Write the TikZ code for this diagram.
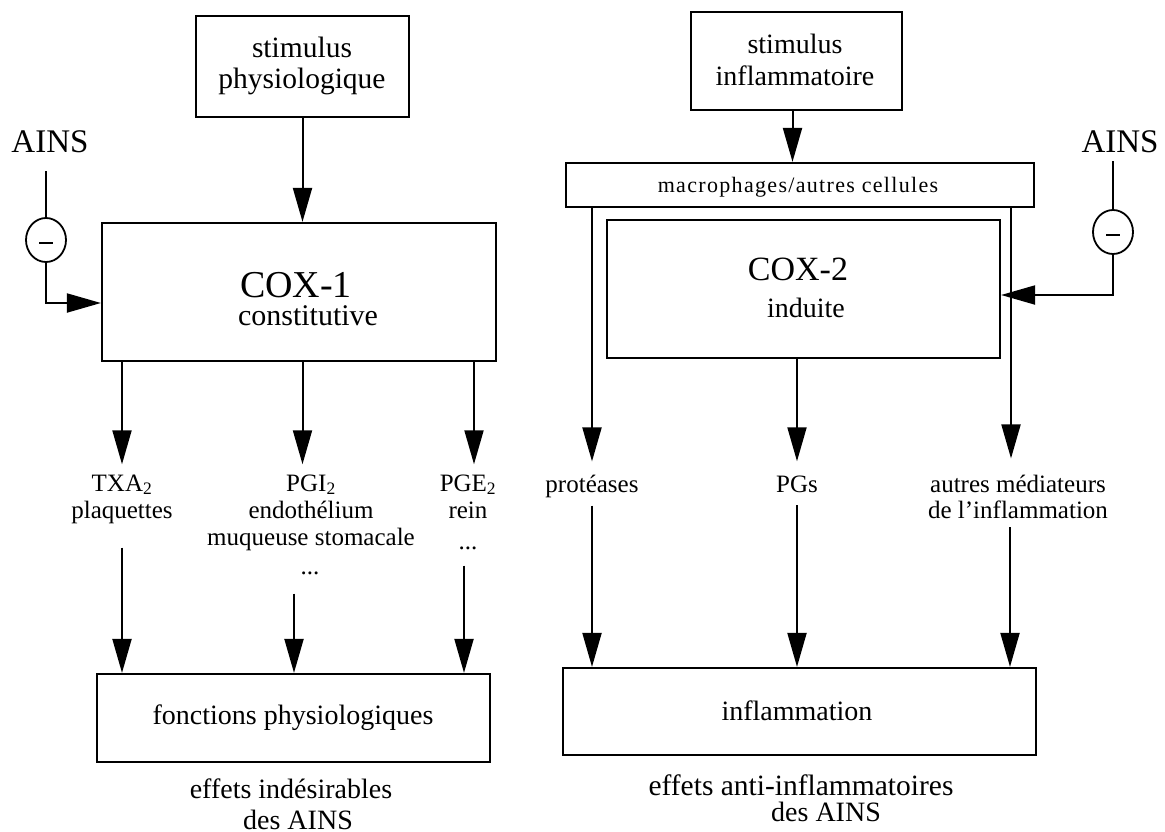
\documentclass[tikz,border=0pt]{standalone}
\usepackage{fontspec}
\setmainfont{Liberation Serif}
\usetikzlibrary{arrows.meta,shapes.geometric}
\newcommand{\fsz}[1]{\fontsize{#1}{#1}\selectfont}
\begin{document}
\begin{tikzpicture}[x=1pt,y=-1pt,
  box/.style={draw,line width=2.2pt,inner sep=0pt},
  ln/.style={line width=2pt},
  arr/.style={line width=2pt,-{Triangle[length=34pt,width=19pt]}},
  txt/.style={inner sep=0pt,anchor=base},
  inh/.style={draw,ellipse,line width=1.8pt,minimum width=40pt,minimum height=44pt,inner sep=0pt},
  big/.style={txt,font=\fsz{28}},
  cox/.style={txt,font=\fsz{34}},
  lbl/.style={txt,font=\fsz{25}},
  ains/.style={txt,font=\fsz{33}}]
\useasboundingbox (0,0) rectangle (1165,831);

% ---------------- left part ----------------
\node[box,minimum width=213pt,minimum height=101pt] (stimP) at (302.5,66.5) {};
\node[big,font=\fsz{29.5}] (stimP1) at (302,57) {stimulus};
\node[big,font=\fsz{29.5}] (stimP2) at (302,88) {physiologique};

\node[box,minimum width=394pt,minimum height=138pt] (cox1) at (299,292) {};
\node[cox,font=\fsz{38}] (cox1a) at (296,297) {COX-1};
\node[big,font=\fsz{30}] (cox1b) at (308,325) {constitutive};

\node[ains] (ainsL) at (50,152) {AINS};
\node[inh] (incL) at (46,240) {};
\draw[line width=1.5pt] ([xshift=-7pt,yshift=-3pt]incL.center) -- ([xshift=7pt,yshift=-3pt]incL.center);

\node[lbl] (txa) at (122,491) {TXA\textsubscript{2}};
\node[lbl] (txb) at (122,518) {plaquettes};
\node[lbl] (pgia) at (311,491) {PGI\textsubscript{2}};
\node[lbl] (pgib) at (311,518) {endothélium};
\node[lbl] (pgic) at (311,545) {muqueuse stomacale};
\node[lbl] (pgid) at (310,574) {...};
\node[lbl] (pgea) at (468,491) {PGE\textsubscript{2}};
\node[lbl] (pgeb) at (468,518) {rein};
\node[lbl] (pgec) at (468,549) {...};

\node[box,minimum width=393pt,minimum height=88pt] (fonc) at (293.5,718) {};
\node[big] (foncT) at (293,724) {fonctions physiologiques};
\node[big] (effL1) at (291,798) {effets indésirables};
\node[big] (effL2) at (298,829) {des AINS};

% connectors left
\draw[arr] (stimP.south) -- (stimP.south |- cox1.north);
\draw[ln,shorten >=18pt] (incL.north) -- (incL.north |- ainsL.south);
\draw[arr] (incL.south) |- ([yshift=-11pt]cox1.west);
\draw[arr,shorten >=10pt] (cox1.south -| txa.north) -- (txa.north);
\draw[arr,shorten >=10pt] (cox1.south -| stimP.south) -- (pgia.north -| stimP.south);
\draw[arr,shorten >=10pt] ([xshift=6pt]pgea.north |- cox1.south) -- ([xshift=6pt]pgea.north);
\draw[arr,shorten <=24pt] (txb.south) -- (txb.south |- fonc.north);
\draw[arr,shorten <=19pt] ([xshift=-16pt]pgid.south) -- ([xshift=-16pt]pgid.south |- fonc.north);
\draw[arr,shorten <=16pt] ([xshift=-4pt]pgec.south) -- ([xshift=-4pt]pgec.south |- fonc.north);

% ---------------- right part ----------------
\node[box,minimum width=211pt,minimum height=98pt] (stimI) at (796.5,61) {};
\node[big] (stimI1) at (795,53) {stimulus};
\node[big] (stimI2) at (795,85) {inflammatoire};

\node[box,minimum width=468pt,minimum height=44pt] (macro) at (800,185) {};
\node[txt,font={\fsz{22}\addfontfeature{LetterSpace=6}}] (macroT) at (798,192) {macrophages/autres cellules};

\node[box,minimum width=393pt,minimum height=138pt] (cox2) at (803.5,289) {};
\node[cox] (cox2a) at (798,280) {COX-2};
\node[big] (cox2b) at (806,317) {induite};

\node[ains] (ainsR) at (1120,152) {AINS};
\node[inh] (incR) at (1113,232) {};
\draw[line width=1.5pt] ([xshift=-7pt,yshift=-3pt]incR.center) -- ([xshift=7pt,yshift=-3pt]incR.center);

\node[lbl] (prot) at (592,492) {protéases};
\node[lbl] (pgs) at (797,492) {PGs};
\node[lbl] (autA) at (1018,492) {autres médiateurs};
\node[lbl] (autB) at (1018,518) {de l'inflammation};

\node[box,minimum width=473pt,minimum height=87pt] (infl) at (799.5,711.5) {};
\node[big] (inflT) at (797,720) {inflammation};
\node[big,font=\fsz{29.5}] (effR1) at (801,795) {effets anti-inflammatoires};
\node[big] (effR2) at (826,821) {des AINS};

% connectors right
\draw[arr] ([xshift=-4pt]stimI.south) -- ([xshift=-4pt]stimI.south |- macro.north);
\draw[arr,shorten >=13pt] (macro.south -| prot.north) -- (prot.north);
\draw[arr,shorten >=14pt] (cox2.south -| pgs.north) -- (pgs.north);
\draw[arr,shorten >=16pt] ([xshift=-7pt]autA.north |- macro.south) -- ([xshift=-7pt]autA.north);
\draw[ln,shorten >=8pt] (incR.north) -- (incR.north |- ainsR.south);
\draw[arr] (incR.south) |- ([yshift=-6pt]cox2.east);
\draw[arr,shorten <=8pt] (prot.south) -- (prot.south |- infl.north);
\draw[arr,shorten <=13pt] (pgs.south) -- (pgs.south |- infl.north);
\draw[arr,shorten <=9pt] ([xshift=-8pt]autB.south) -- ([xshift=-8pt]autB.south |- infl.north);
\end{tikzpicture}
\end{document}
